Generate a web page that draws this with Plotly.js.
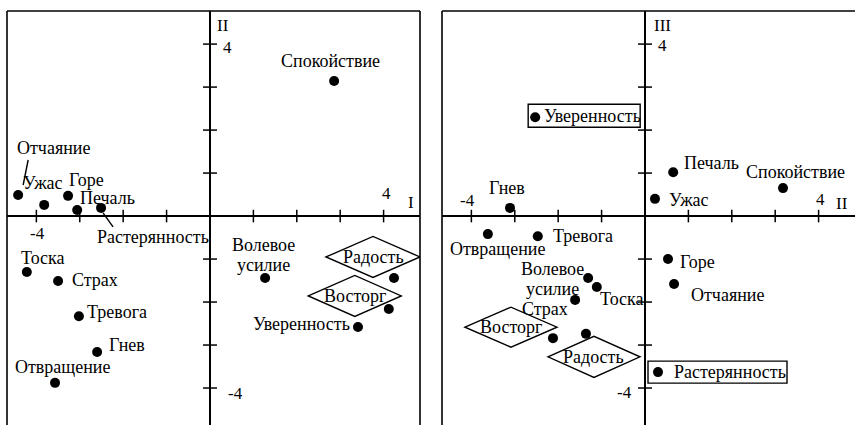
<!DOCTYPE html>
<html>
<head>
<meta charset="utf-8">
<script src="https://cdn.plot.ly/plotly-3.0.1.min.js"></script>
<style>
  html, body { margin: 0; padding: 0; background: #fff; }
  #chart { width: 855px; height: 425px; }
</style>
</head>
<body>
<div id="chart"></div>
<script>
// Emotion names, same order for both panels
const emotions = ['Отчаяние', 'Ужас', 'Горе', 'Печаль', 'Растерянность', 'Спокойствие', 'Тоска',
    'Страх', 'Тревога', 'Гнев', 'Отвращение', 'Волевое усилие', 'Радость', 'Восторг', 'Уверенность'];

// Left panel: factor I (x) against factor II (y)
const leftX = [-4.42, -3.82, -3.27, -3.06, -2.51, 2.86, -4.22, -3.50, -3.02, -2.60, -3.57, 1.27, 4.24, 4.12, 3.41];
const leftY = [0.49, 0.26, 0.47, 0.14, 0.19, 3.14, -1.30, -1.51, -2.33, -3.16, -3.88, -1.44, -1.44, -2.16, -2.58];

// Right panel: factor II (x) against factor III (y)
const rightX = [0.67, 0.23, 0.53, 0.65, 0.30, 3.18, -1.11, -1.61, -2.47, -3.11, -3.62, -1.31, -1.36, -2.12, -2.53];
const rightY = [-1.58, 0.40, -1.00, 1.02, -3.63, 0.65, -1.65, -1.95, -0.47, 0.19, -0.42, -1.44, -2.74, -2.84, 2.30];

// Tick marks on the crossing axes
const tickVals = [-4, -3, -2, -1, 1, 2, 3, 4];

// Label placement (pixel shifts from the dot), frames around some labels
const leftLabels = {
    'Отчаяние': {dx: 35, dy: 47, lead: [5, 10, 10, 35]},
    'Ужас': {dx: -1, dy: 22},
    'Горе': {dx: 18, dy: 16},
    'Печаль': {dx: 30, dy: 12},
    'Растерянность': {dx: 52, dy: -29, lead: [2, -5, 12, -19]},
    'Спокойствие': {dx: -4, dy: 20},
    'Тоска': {dx: 16, dy: 14},
    'Страх': {dx: 12, dy: 1, anchor: 'left'},
    'Тревога': {dx: 6, dy: 4, anchor: 'left'},
    'Гнев': {dx: 10, dy: 7, anchor: 'left'},
    'Отвращение': {dx: 7, dy: 16},
    'Волевое усилие': {dx: -2, dy: 23, split: true, step: 20},
    'Радость': {dx: -21, dy: 21, diamond: [47, 20.5]},
    'Восторг': {dx: -34, dy: 13, diamond: [46.5, 20.5]},
    'Уверенность': {dx: -6, dy: 3, anchor: 'right'}
};

const rightLabels = {
    'Отчаяние': {dx: 15, dy: -11, anchor: 'left'},
    'Ужас': {dx: 12, dy: -1, anchor: 'left'},
    'Горе': {dx: 10, dy: -3, anchor: 'left'},
    'Печаль': {dx: 9, dy: 9, anchor: 'left'},
    'Растерянность': {dx: 14, dy: 0, anchor: 'left', box: [-10, 129, -11, 11]},
    'Спокойствие': {dx: 13, dy: 16},
    'Тоска': {dx: 1, dy: -12, anchor: 'left'},
    'Страх': {dx: -30, dy: -9},
    'Тревога': {dx: 13, dy: 0, anchor: 'left'},
    'Гнев': {dx: -3, dy: 20},
    'Отвращение': {dx: 10, dy: -15},
    'Волевое усилие': {dx: -36, dy: -1, split: true, step: 20},
    'Радость': {dx: 8, dy: -23, diamond: [46, 20.5]},
    'Восторг': {dx: -42, dy: 11, diamond: [46, 20]},
    'Уверенность': {dx: 7, dy: 1, anchor: 'left', box: [-7, 105, -10, 13]}
};

const labelFont = {family: 'Liberation Serif, Times New Roman, serif', size: 18, color: '#000'};
const tickFont = {family: 'Liberation Serif, Times New Roman, serif', size: 17, color: '#000'};
const ink = {color: '#000', width: 1.4};

const data = [];
const annotations = [];
const shapes = [];

function buildPanel(xs, ys, xa, ya, labels) {
    // dots
    data.push({
        x: xs, y: ys, xaxis: xa, yaxis: ya,
        type: 'scatter', mode: 'markers',
        marker: {color: '#000', size: 10},
        hoverinfo: 'skip'
    });
    // tick crosses on the horizontal axis
    data.push({
        x: tickVals, y: tickVals.map(() => 0), xaxis: xa, yaxis: ya,
        type: 'scatter', mode: 'markers',
        marker: {symbol: 'line-ns-open', size: 9, color: '#000', line: {color: '#000', width: 1.5}},
        hoverinfo: 'skip'
    });
    // tick crosses on the vertical axis
    data.push({
        x: tickVals.map(() => 0), y: tickVals, xaxis: xa, yaxis: ya,
        type: 'scatter', mode: 'markers',
        marker: {symbol: 'line-ew-open', size: 10, color: '#000', line: {color: '#000', width: 1.5}},
        hoverinfo: 'skip'
    });

    emotions.forEach((name, i) => {
        const s = labels[name];
        const lines = s.split ? name.split(' ') : [name];
        const step = s.step || 0;
        lines.forEach((ln, k) => {
            annotations.push({
                xref: xa, yref: ya, x: xs[i], y: ys[i],
                text: ln, showarrow: false,
                xanchor: s.anchor || 'center', yanchor: 'middle',
                xshift: s.dx, yshift: s.dy + (lines.length - 1) / 2 * step - k * step,
                font: labelFont
            });
        });
        const anchorOpts = {
            xref: xa, yref: ya, xsizemode: 'pixel', ysizemode: 'pixel',
            xanchor: xs[i], yanchor: ys[i], line: ink, layer: 'above'
        };
        if (s.lead) {
            shapes.push(Object.assign({type: 'line', x0: s.lead[0], y0: s.lead[1], x1: s.lead[2], y1: s.lead[3]}, anchorOpts));
        }
        if (s.diamond) {
            const cx = s.dx, cy = s.dy, w = s.diamond[0], h = s.diamond[1];
            shapes.push(Object.assign({
                type: 'path',
                path: `M${cx - w},${cy} L${cx},${cy + h} L${cx + w},${cy} L${cx},${cy - h} Z`
            }, anchorOpts));
        }
        if (s.box) {
            shapes.push(Object.assign({type: 'rect', x0: s.box[0], x1: s.box[1], y0: s.box[2], y1: s.box[3]}, anchorOpts));
        }
    });
}

buildPanel(leftX, leftY, 'x', 'y', leftLabels);
buildPanel(rightX, rightY, 'x2', 'y2', rightLabels);

// panel frames: left panel open at the bottom, right panel open at bottom and right
[['x domain', 'y domain', [[0, 0, 0, 1], [0, 1, 1, 1], [1, 0, 1, 1]]],
 ['x2 domain', 'y2 domain', [[0, 0, 0, 1], [0, 1, 1, 1]]]].forEach(([xr, yr, segs]) => {
    segs.forEach(([x0, y0, x1, y1]) => {
        shapes.push({type: 'line', xref: xr, yref: yr, x0: x0, y0: y0, x1: x1, y1: y1,
            line: {color: '#000', width: 1.6}});
    });
});

// axis numbers and factor names
function tickLabel(xr, yr, x, y, text, xshift, yshift) {
    annotations.push({xref: xr, yref: yr, x: x, y: y, text: text, showarrow: false,
        xanchor: 'center', yanchor: 'middle', xshift: xshift, yshift: yshift, font: tickFont});
}
tickLabel('x', 'y', 4, 0, '4', 3, 23);
tickLabel('x', 'y', -4, 0, '-4', 1, -17);
tickLabel('x', 'y', 0, 4, '4', 18, -3);
tickLabel('x', 'y', 0, -4, '-4', 26, -5);
tickLabel('x domain', 'y', 0.978, 0, 'I', 0, 14);
tickLabel('x', 'y domain', 0, 1, 'II', 13, -14);

tickLabel('x2', 'y2', 4, 0, '4', 2, 17);
tickLabel('x2', 'y2', -4, 0, '-4', -4, 16);
tickLabel('x2', 'y2', 0, 4, '4', 18, -1);
tickLabel('x2', 'y2', 0, -4, '-4', -20, -4);
tickLabel('x2 domain', 'y2', 0.969, 0, 'II', 0, 13);
tickLabel('x2', 'y2 domain', 0, 1, 'III', 18, -14);

const axisBase = {
    showgrid: false, showticklabels: false, ticks: '', showline: false,
    zeroline: true, zerolinecolor: '#000', zerolinewidth: 1.6, fixedrange: true
};
const xRange = [-4.677, 4.839];
const yRange = [-4.86, 4.77];

const layout = {
    width: 855, height: 425,
    margin: {l: 7, r: 0, t: 11, b: 0},
    paper_bgcolor: '#fff', plot_bgcolor: '#fff',
    showlegend: false, hovermode: false,
    xaxis: Object.assign({}, axisBase, {domain: [0, 0.48703], range: xRange}),
    yaxis: Object.assign({}, axisBase, {domain: [0, 1], range: yRange}),
    xaxis2: Object.assign({}, axisBase, {domain: [0.51297, 1], range: xRange, anchor: 'y2'}),
    yaxis2: Object.assign({}, axisBase, {domain: [0, 1], range: yRange, anchor: 'x2'}),
    annotations: annotations,
    shapes: shapes
};

Plotly.newPlot('chart', data, layout, {displayModeBar: false, staticPlot: true});
</script>
</body>
</html>
